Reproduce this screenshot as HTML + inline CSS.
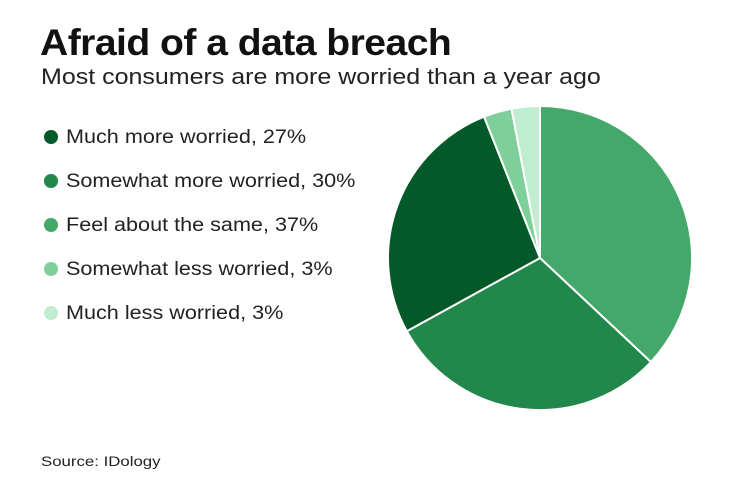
<!DOCTYPE html>
<html><head><meta charset="utf-8"><style>
body{margin:0;width:740px;height:482px;background:#fff;font-family:"Liberation Sans",sans-serif;color:#111;position:relative;overflow:hidden}
.t{position:absolute;left:40px;top:22px;font-size:37px;font-weight:bold;letter-spacing:-0.5px;transform:scaleX(1.056);transform-origin:left;white-space:nowrap}
.s{position:absolute;left:41px;top:64px;font-size:22px;color:#222;transform:scaleX(1.136);transform-origin:left;white-space:nowrap}
.l{position:absolute;left:44px;font-size:19px;color:#222;white-space:nowrap}
.l i{position:absolute;left:0;top:3px;width:14px;height:14px;border-radius:50%}
.l span{position:absolute;left:22px;top:0;transform:scaleX(1.137);transform-origin:left}
.src{position:absolute;left:41px;top:453px;font-size:14px;color:#222;transform:scaleX(1.2);transform-origin:left;white-space:nowrap}
</style></head><body>
<div class="t">Afraid of a data breach</div>
<div class="s">Most consumers are more worried than a year ago</div>
<div class="l" style="top:127px"><i style="background:#035a28"></i><span>Much more worried, 27%</span></div>
<div class="l" style="top:171px"><i style="background:#22874a"></i><span>Somewhat more worried, 30%</span></div>
<div class="l" style="top:215px"><i style="background:#45a86b"></i><span>Feel about the same, 37%</span></div>
<div class="l" style="top:259px"><i style="background:#7fcf9a"></i><span>Somewhat less worried, 3%</span></div>
<div class="l" style="top:303px"><i style="background:#c0ecd0"></i><span>Much less worried, 3%</span></div>
<svg style="position:absolute;left:0;top:0" width="740" height="482">
<g stroke="#fff" stroke-width="2" stroke-linejoin="round">
<path d="M540,258 L540,106 A152,152 0 0 1 650.9,362 Z" fill="#45a86b"/>
<path d="M540,258 L650.9,362 A152,152 0 0 1 406.8,331.2 Z" fill="#22874a"/>
<path d="M540,258 L406.8,331.2 A152,152 0 0 1 484.1,116.7 Z" fill="#035a28"/>
<path d="M540,258 L484.1,116.7 A152,152 0 0 1 511.5,108.7 Z" fill="#7fcf9a"/>
<path d="M540,258 L511.5,108.7 A152,152 0 0 1 540,106 Z" fill="#c0ecd0"/>
</g></svg>
<div class="src">Source: IDology</div>
</body></html>
